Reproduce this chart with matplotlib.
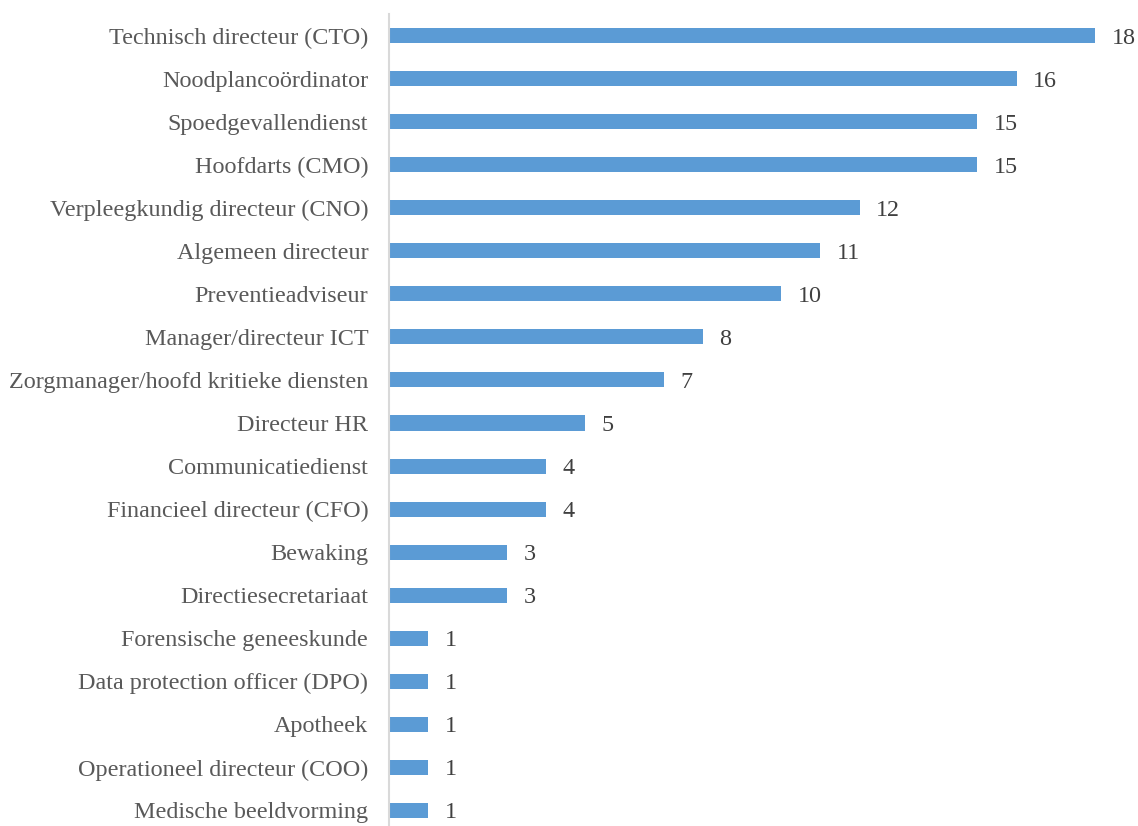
import matplotlib.pyplot as plt
import numpy as np

functies = [
    'Technisch directeur (CTO)',
    'Noodplancoördinator',
    'Spoedgevallendienst',
    'Hoofdarts (CMO)',
    'Verpleegkundig directeur (CNO)',
    'Algemeen directeur',
    'Preventieadviseur',
    'Manager/directeur ICT',
    'Zorgmanager/hoofd kritieke diensten',
    'Directeur HR',
    'Communicatiedienst',
    'Financieel directeur (CFO)',
    'Bewaking',
    'Directiesecretariaat',
    'Forensische geneeskunde',
    'Data protection officer (DPO)',
    'Apotheek',
    'Operationeel directeur (COO)',
    'Medische beeldvorming',
]
aantallen = [18, 16, 15, 15, 12, 11, 10, 8, 7, 5, 4, 4, 3, 3, 1, 1, 1, 1, 1]

plt.rcParams['font.family'] = ['Liberation Serif', 'DejaVu Serif']

fig = plt.figure(figsize=(11.38, 8.26), dpi=100)
ax = fig.add_axes([389 / 1138, -6 / 826, 749 / 1138, 818 / 826])

y = np.arange(len(functies))
ax.barh(y, aantallen, height=0.35, color='#5b9bd5')

# waarde rechts naast elke balk
for yi, v in zip(y, aantallen):
    ax.annotate(str(v), (v, yi), xytext=(12, 0), textcoords='offset points',
                va='center_baseline', ha='left', fontsize=17.4, color='#404040')

ax.set_yticks(y)
ax.set_yticklabels(functies, fontsize=17.4, color='#595959')
ax.tick_params(axis='y', length=0, pad=15)
ax.set_ylim(len(functies) - 0.5, -0.5)
ax.set_xlim(0, 749 / 39.22)
ax.set_xticks([])

for s in ['top', 'right', 'bottom']:
    ax.spines[s].set_visible(False)
ax.spines['left'].set_color('#d9d9d9')
ax.spines['left'].set_linewidth(1.5)

fig.savefig('out.png', dpi=100)
